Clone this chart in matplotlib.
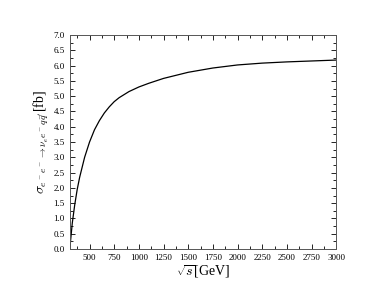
import matplotlib
matplotlib.use("Agg")
import matplotlib.pyplot as plt
from matplotlib.ticker import MultipleLocator

# sqrt(s) [GeV] vs cross section [fb]
sqrt_s = [300, 310, 325, 350, 375, 400, 450, 500, 550, 600, 650, 700,
          750, 800, 900, 1000, 1100, 1250, 1500, 1750, 2000, 2250,
          2500, 2750, 3000]
sigma = [0.0, 0.35, 0.85, 1.45, 1.95, 2.35, 3.0, 3.5, 3.9, 4.2, 4.45,
         4.65, 4.82, 4.95, 5.15, 5.3, 5.42, 5.58, 5.78, 5.92, 6.02,
         6.08, 6.12, 6.15, 6.18]

plt.rcParams["font.family"] = ["Liberation Serif", "DejaVu Serif"]
plt.rcParams["mathtext.fontset"] = "cm"

fig = plt.figure(figsize=(3.9, 2.99), dpi=100)
ax = fig.add_axes([0.179, 0.167, 0.683, 0.716])

ax.plot(sqrt_s, sigma, color="black", lw=0.9)

ax.set_xlim(300, 3000)
ax.set_ylim(0, 7)
ax.xaxis.set_minor_locator(MultipleLocator(125))
ax.yaxis.set_major_locator(MultipleLocator(0.5))
ax.yaxis.set_minor_locator(MultipleLocator(0.25))
ax.set_xticks(range(500, 3001, 250))
ax.set_yticks([i * 0.5 for i in range(15)])
ax.set_yticklabels([f"{i * 0.5:.1f}" for i in range(15)])

ax.tick_params(which="both", direction="in", top=True, right=True,
               labelsize=6.5, colors="black", width=0.6)
ax.tick_params(which="major", length=3.5)
ax.tick_params(which="minor", length=2)
for s in ax.spines.values():
    s.set_linewidth(0.7)
    s.set_color("#555555")

ax.set_xlabel(r"$\sqrt{s}$[GeV]", fontsize=10, labelpad=1)
ax.set_ylabel(r"$\sigma_{e^-e^-\rightarrow\nu_e e^- q\bar{q}'}$[fb]",
              fontsize=10, labelpad=2)

fig.savefig("out.png", dpi=100)
